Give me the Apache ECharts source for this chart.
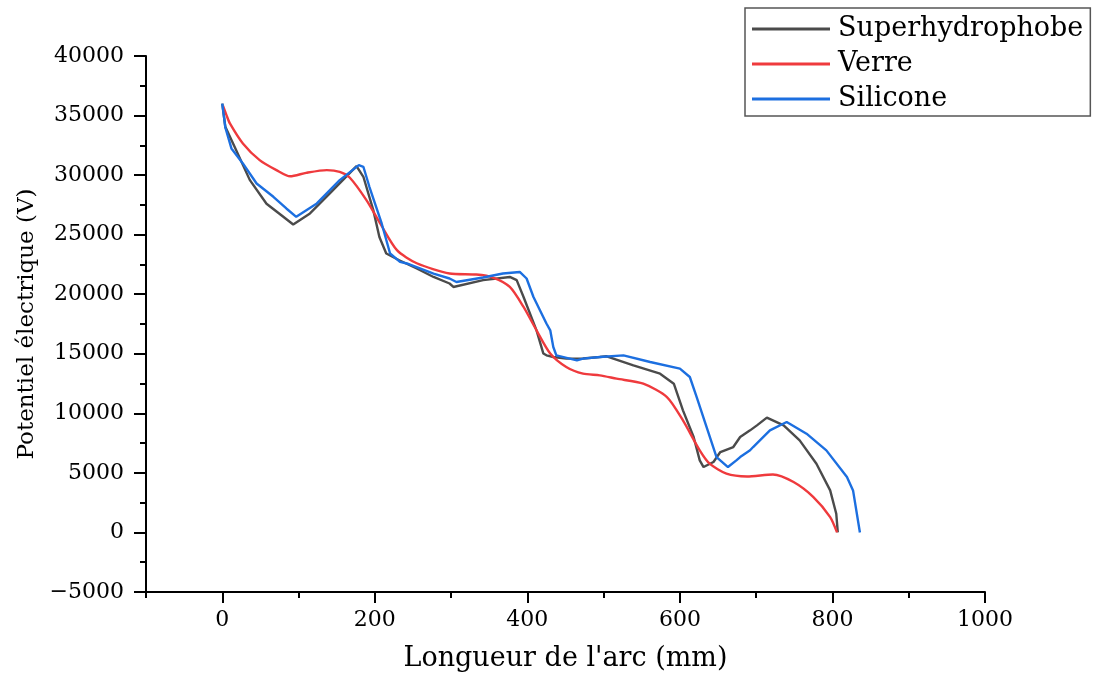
<!DOCTYPE html>
<html>
<head>
<meta charset="utf-8">
<script src="https://cdn.jsdelivr.net/npm/echarts@6/dist/echarts.min.js"></script>
<style>
  html, body { margin: 0; padding: 0; background: #fff; }
  #chart { width: 1094px; height: 679px; }
</style>
</head>
<body>
<div id="chart"></div>
<script>
// Superhydrophobe
var superX = [0, 4, 16, 36, 58, 80, 93, 115, 141, 176, 185, 198, 206, 215, 232, 255, 277, 298, 303, 342, 377, 386, 395, 412, 421, 425, 434, 451, 473, 495, 504, 539, 574, 592, 604, 618, 626, 631, 644, 653, 670, 679, 692, 701, 714, 736, 757, 779, 797, 805, 807];
var superY = [36000, 34050, 32400, 29600, 27600, 26500, 25850, 26780, 28460, 30750, 29860, 27060, 24800, 23420, 22850, 22160, 21450, 20900, 20610, 21180, 21450, 21180, 19770, 16970, 15020, 14870, 14730, 14590, 14600, 14730, 14790, 14030, 13330, 12490, 10250, 8010, 6050, 5490, 5910, 6750, 7170, 8010, 8570, 8990, 9640, 8990, 7730, 5770, 3530, 1570, 0];

// Verre
var verreX = [1, 5.5, 10, 27, 49, 71, 89, 110, 137, 154, 167, 189, 207, 229, 255, 298, 333, 355, 377, 395, 412, 430, 451, 473, 495, 517, 552, 583, 604, 626, 639, 661, 688, 722, 749, 775, 797, 806];
var verreY = [35800, 35040, 34340, 32660, 31260, 30420, 29900, 30190, 30420, 30280, 29800, 27900, 25940, 23700, 22600, 21740, 21650, 21400, 20610, 18930, 16970, 15020, 13890, 13330, 13190, 12910, 12490, 11370, 9410, 6890, 5770, 4930, 4700, 4870, 4230, 2970, 1290, 0];

// Silicone
var siliX = [0, 4, 12, 27, 45, 67, 84, 97, 124, 154, 179, 185, 193, 209, 220, 233, 242, 277, 298, 307, 342, 368, 390, 399, 408, 425, 430, 434, 438, 465, 473, 495, 526, 561, 600, 613, 622, 635, 648, 663, 674, 679, 692, 696, 718, 740, 766, 792, 819, 827, 836];
var siliY = [36000, 34000, 32240, 30980, 29300, 28180, 27200, 26500, 27620, 29580, 30840, 30700, 29000, 25940, 23420, 22710, 22580, 21730, 21320, 21030, 21400, 21740, 21870, 21320, 19770, 17540, 16970, 15570, 14870, 14450, 14590, 14730, 14870, 14310, 13750, 13050, 11370, 8850, 6330, 5490, 6050, 6330, 6900, 7170, 8570, 9270, 8290, 6890, 4650, 3530, 0];

var seriesNames = ['Superhydrophobe', 'Verre', 'Silicone'];
var seriesColors = ['#4b4b4b', '#ef3a3d', '#1c6fe0'];

var xMajorTicks = [0, 200, 400, 600, 800, 1000];
var xMinorTicks = [-100, 100, 300, 500, 700, 900];

function pairs(xs, ys) {
    return xs.map(function (x, i) { return [x, ys[i]]; });
}

var font = 'DejaVu Serif';
var chart = echarts.init(document.getElementById('chart'));

var option = {
    backgroundColor: '#fff',
    animation: false,
    textStyle: { fontFamily: font, color: '#000' },
    legend: {
        left: 745,
        top: 8,
        orient: 'vertical',
        icon: 'rect',
        itemWidth: 78,
        itemHeight: 3,
        itemGap: 5,
        padding: [6, 7, 2, 7],
        borderColor: '#555',
        borderWidth: 1.5,
        textStyle: { fontFamily: font, fontSize: 27, color: '#000', lineHeight: 30, padding: [0, 0, 0, 3] },
        data: seriesNames
    },
    grid: {
        left: 146,
        right: 109,
        top: 56,
        bottom: 87,
        outerBoundsMode: 'none'
    },
    xAxis: [{
        type: 'value',
        min: -100,
        max: 1000,
        name: "Longueur de l'arc (mm)",
        nameLocation: 'middle',
        nameGap: 53,
        nameTextStyle: { fontFamily: font, fontSize: 27, color: '#000' },
        axisLine: { onZero: false, lineStyle: { color: '#000', width: 2 } },
        axisTick: { length: 11, customValues: xMajorTicks, lineStyle: { color: '#000', width: 2 } },
        axisLabel: { customValues: xMajorTicks, margin: 17, fontFamily: font, fontSize: 22, color: '#000',
            formatter: function (v) { return String(v); } },
        splitLine: { show: false }
    }, {
        type: 'value',
        min: -100,
        max: 1000,
        position: 'bottom',
        axisLine: { show: false, onZero: false },
        axisTick: { length: 6, customValues: xMinorTicks, lineStyle: { color: '#000', width: 2 } },
        axisLabel: { show: false },
        splitLine: { show: false }
    }],
    yAxis: {
        type: 'value',
        min: -5000,
        max: 40000,
        interval: 5000,
        name: 'Potentiel électrique (V)',
        nameLocation: 'middle',
        nameGap: 104,
        nameTextStyle: { fontFamily: font, fontSize: 23, color: '#000' },
        axisLine: { show: true, onZero: false, lineStyle: { color: '#000', width: 2 } },
        axisTick: { length: 12, lineStyle: { color: '#000', width: 2 } },
        minorTick: { show: true, splitNumber: 2, length: 6, lineStyle: { color: '#000', width: 2 } },
        axisLabel: { margin: 22, fontFamily: font, fontSize: 22, color: '#000',
            formatter: function (v) { return v < 0 ? '\u2212' + Math.abs(v) : String(v); } },
        splitLine: { show: false }
    },
    series: [{
        name: seriesNames[0],
        type: 'line',
        xAxisIndex: 0,
        showSymbol: false,
        data: pairs(superX, superY),
        lineStyle: { color: seriesColors[0], width: 2.4 },
        itemStyle: { color: seriesColors[0] }
    }, {
        name: seriesNames[1],
        type: 'line',
        xAxisIndex: 0,
        showSymbol: false,
        smooth: 0.25,
        data: pairs(verreX, verreY),
        lineStyle: { color: seriesColors[1], width: 2.4 },
        itemStyle: { color: seriesColors[1] }
    }, {
        name: seriesNames[2],
        type: 'line',
        xAxisIndex: 0,
        showSymbol: false,
        data: pairs(siliX, siliY),
        lineStyle: { color: seriesColors[2], width: 2.4 },
        itemStyle: { color: seriesColors[2] }
    }]
};

chart.setOption(option);
</script>
</body>
</html>
